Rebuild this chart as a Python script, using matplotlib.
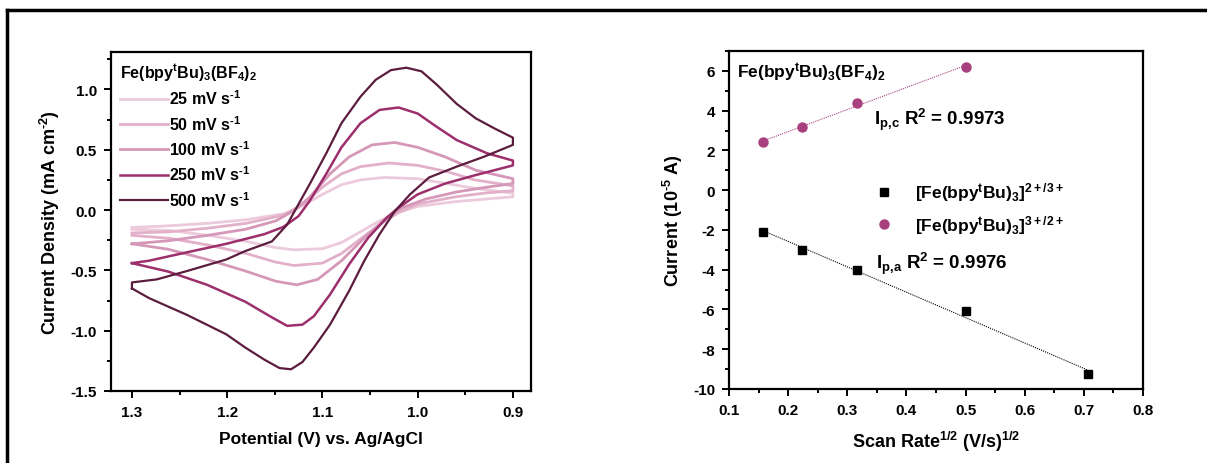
import numpy as np
import matplotlib
matplotlib.use("Agg")
import matplotlib.pyplot as plt
from matplotlib.lines import Line2D
from matplotlib.ticker import MultipleLocator

plt.rcParams['font.family'] = ['Liberation Sans', 'DejaVu Sans']
plt.rcParams['font.weight'] = 'bold'
plt.rcParams['mathtext.fontset'] = 'custom'
plt.rcParams['mathtext.rm'] = 'Liberation Sans:bold'
plt.rcParams['mathtext.it'] = 'Liberation Sans:bold'
plt.rcParams['mathtext.bf'] = 'Liberation Sans:bold'
plt.rcParams['mathtext.default'] = 'rm'
plt.rcParams['axes.unicode_minus'] = False

# ---- voltamogramas (E en V, j en mA cm-2), lazo: rama inferior 1.3->0.9, luego rama superior 0.9->1.3
e_25 = [1.30, 1.26, 1.22, 1.18, 1.15, 1.13, 1.10, 1.08, 1.06, 1.04, 1.02, 1.00, 0.96, 0.93, 0.90,
        0.90, 0.94, 0.97, 1.00, 1.035, 1.06, 1.08, 1.10, 1.12, 1.14, 1.18, 1.22, 1.26, 1.30]
j_25 = [-0.16, -0.17, -0.21, -0.26, -0.31, -0.33, -0.32, -0.27, -0.18, -0.09, -0.02, 0.03, 0.07, 0.09, 0.11,
        0.14, 0.18, 0.22, 0.26, 0.27, 0.25, 0.21, 0.13, 0.04, -0.03, -0.08, -0.11, -0.13, -0.145]

e_50 = [1.30, 1.26, 1.22, 1.18, 1.15, 1.13, 1.10, 1.08, 1.06, 1.04, 1.02, 1.00, 0.96, 0.93, 0.90,
        0.90, 0.94, 0.97, 1.00, 1.03, 1.06, 1.08, 1.10, 1.12, 1.14, 1.18, 1.22, 1.26, 1.30]
j_50 = [-0.21, -0.235, -0.29, -0.36, -0.43, -0.46, -0.44, -0.36, -0.24, -0.12, -0.02, 0.05, 0.11, 0.14, 0.16,
        0.20, 0.25, 0.32, 0.37, 0.39, 0.36, 0.30, 0.19, 0.05, -0.04, -0.11, -0.15, -0.18, -0.19]

e_100 = [1.30, 1.262, 1.221, 1.181, 1.149, 1.127, 1.105, 1.080, 1.056, 1.032, 1.016, 0.992, 0.959, 0.927, 0.90,
         0.90, 0.939, 0.971, 1.000, 1.024, 1.048, 1.072, 1.092, 1.113, 1.129, 1.149, 1.181, 1.221, 1.262, 1.30]
j_100 = [-0.28, -0.325, -0.41, -0.505, -0.59, -0.62, -0.575, -0.42, -0.23, -0.06, 0.02, 0.09, 0.15, 0.19, 0.22,
         0.26, 0.33, 0.44, 0.52, 0.56, 0.54, 0.44, 0.30, 0.11, 0.0, -0.09, -0.16, -0.21, -0.255, -0.28]

e_250 = [1.30, 1.262, 1.221, 1.181, 1.153, 1.137, 1.121, 1.109, 1.092, 1.072, 1.052, 1.032, 1.020, 1.000, 0.971,
         0.939, 0.90, 0.90, 0.927, 0.959, 0.980, 1.000, 1.020, 1.040, 1.060, 1.080, 1.096, 1.113, 1.125, 1.141,
         1.161, 1.201, 1.242, 1.282, 1.30]
j_250 = [-0.44, -0.51, -0.62, -0.76, -0.89, -0.96, -0.95, -0.88, -0.70, -0.45, -0.23, -0.06, 0.02, 0.13, 0.22,
         0.29, 0.37, 0.41, 0.47, 0.58, 0.69, 0.80, 0.85, 0.83, 0.72, 0.52, 0.30, 0.08, -0.05, -0.14,
         -0.20, -0.28, -0.35, -0.42, -0.44]

e_500 = [1.30, 1.282, 1.242, 1.201, 1.181, 1.161, 1.145, 1.133, 1.121, 1.109, 1.092, 1.072, 1.056, 1.040, 1.024,
         1.008, 0.988, 0.959, 0.931, 0.90, 0.90, 0.919, 0.939, 0.959, 0.980, 0.996, 1.012, 1.028, 1.044, 1.060,
         1.080, 1.096, 1.113, 1.125, 1.137, 1.153, 1.181, 1.201, 1.242, 1.274, 1.30, 1.30]
j_500 = [-0.65, -0.73, -0.87, -1.03, -1.14, -1.24, -1.31, -1.32, -1.26, -1.14, -0.95, -0.67, -0.42, -0.20, -0.01,
         0.13, 0.27, 0.36, 0.44, 0.54, 0.60, 0.675, 0.76, 0.88, 1.04, 1.15, 1.18, 1.16, 1.08, 0.94,
         0.72, 0.47, 0.22, 0.05, -0.12, -0.26, -0.34, -0.41, -0.505, -0.575, -0.60, -0.65]

etiquetas_cv = ["25 mV s$^{\\text{-}1}$", "50 mV s$^{\\text{-}1}$", "100 mV s$^{\\text{-}1}$",
                "250 mV s$^{\\text{-}1}$", "500 mV s$^{\\text{-}1}$"]
colores_cv = ["#eccadb", "#e3b0c9", "#d698b8", "#9c2f6c", "#5b1c3e"]
grosores_cv = [2.0, 2.0, 2.0, 1.8, 1.6]

# ---- corrientes de pico vs raiz de velocidad de barrido
raiz_v_a = [0.158, 0.224, 0.316, 0.500, 0.707]
ip_a = [-2.1, -3.0, -4.0, -6.1, -9.25]
raiz_v_c = [0.158, 0.224, 0.316, 0.500]
ip_c = [2.4, 3.2, 4.4, 6.2]

fig = plt.figure(figsize=(12.07, 4.64), dpi=100)

# marco recortado de la figura (solo arriba e izquierda)
fig.add_artist(Line2D([7 / 1207, 1.0], [1 - 11 / 464, 1 - 11 / 464], color="black", lw=2.5, transform=fig.transFigure))
fig.add_artist(Line2D([7 / 1207, 7 / 1207], [0.0, 1 - 11 / 464], color="black", lw=2.5, transform=fig.transFigure))


def estilo_ejes(ax):
    for s in ax.spines.values():
        s.set_linewidth(1.6)
    ax.tick_params(which="both", direction="out", top=False, right=False, width=1.4)
    ax.tick_params(which="major", length=5, labelsize=11, pad=5)
    ax.tick_params(which="minor", length=3)
    for lab in ax.get_xticklabels() + ax.get_yticklabels():
        lab.set_fontweight("bold")


# ---------------- panel izquierdo
ax1 = fig.add_axes([111 / 1207, 1 - 392 / 464, 420 / 1207, 339 / 464])
datos = [(e_25, j_25), (e_50, j_50), (e_100, j_100), (e_250, j_250), (e_500, j_500)]
for (e, j), lab, c, w in zip(datos, etiquetas_cv, colores_cv, grosores_cv):
    ax1.plot(e, j, color=c, lw=w, label=lab)
ax1.set_xlim(1.322, 0.881)
ax1.set_ylim(-1.5, 1.31)
ax1.xaxis.set_major_locator(MultipleLocator(0.1))
ax1.xaxis.set_minor_locator(MultipleLocator(0.05))
ax1.yaxis.set_major_locator(MultipleLocator(0.5))
ax1.yaxis.set_minor_locator(MultipleLocator(0.25))
ax1.set_xlabel("Potential (V) vs. Ag/AgCl", fontsize=12.5, fontweight="bold", labelpad=9)
ax1.set_ylabel("Current Density (mA cm$^{\\text{-}2}$)", fontsize=13, fontweight="bold", labelpad=6)
estilo_ejes(ax1)
leg = ax1.legend(loc="upper left", frameon=False, fontsize=11.5, handlelength=3.0, handletextpad=0.1,
                 labelspacing=0.42, borderaxespad=0.25, borderpad=0.3,
                 title="Fe(bpy$^{t}$Bu)$_3$(BF$_4$)$_2$", title_fontsize=11.5)
leg._legend_box.align = "left"
leg.get_title().set_fontweight("bold")

# ---------------- panel derecho
ax2 = fig.add_axes([729 / 1207, 1 - 390 / 464, 414 / 1207, 338 / 464])
pa = np.polyfit(raiz_v_a, ip_a, 1)
pc = np.polyfit(raiz_v_c, ip_c, 1)
xa = np.array([min(raiz_v_a), max(raiz_v_a)])
xc = np.array([min(raiz_v_c), max(raiz_v_c)])
ax2.plot(xa, np.polyval(pa, xa), color="black", lw=0.8, ls=(0, (1, 1)))
ax2.plot(xc, np.polyval(pc, xc), color="#a8407f", lw=0.8, ls=(0, (1, 1)))
ax2.plot(raiz_v_a, ip_a, ls="none", marker="s", ms=6, color="black",
         label="[Fe(bpy$^{t}$Bu)$_3$]$^{2+/3+}$")
ax2.plot(raiz_v_c, ip_c, ls="none", marker="o", ms=6.5, color="#a8407f",
         label="[Fe(bpy$^{t}$Bu)$_3$]$^{3+/2+}$")
ax2.set_xlim(0.1, 0.8)
ax2.set_ylim(-10, 7)
ax2.xaxis.set_major_locator(MultipleLocator(0.1))
ax2.xaxis.set_minor_locator(MultipleLocator(0.05))
ax2.yaxis.set_major_locator(MultipleLocator(2))
ax2.yaxis.set_minor_locator(MultipleLocator(1))
ax2.set_xlabel("Scan Rate$^{1/2}$ (V/s)$^{1/2}$", fontsize=13, fontweight="bold", labelpad=9)
ax2.set_ylabel("Current (10$^{\\text{-}5}$ A)", fontsize=13, fontweight="bold", labelpad=6)
estilo_ejes(ax2)
ax2.legend(loc="center", bbox_to_anchor=(0.57, 0.535), frameon=False, fontsize=12.5,
           handletextpad=0.8, labelspacing=0.55)
ax2.text(0.113, 5.95, "Fe(bpy$^{t}$Bu)$_3$(BF$_4$)$_2$", fontsize=12.5, fontweight="bold", va="center")
ax2.text(0.346, 3.6, "I$_{p{,}c}$ R$^2$ = 0.9973", fontsize=13.5, fontweight="bold", va="center")
ax2.text(0.348, -3.65, "I$_{p{,}a}$ R$^2$ = 0.9976", fontsize=13.5, fontweight="bold", va="center")

fig.savefig("out.png", dpi=100)
